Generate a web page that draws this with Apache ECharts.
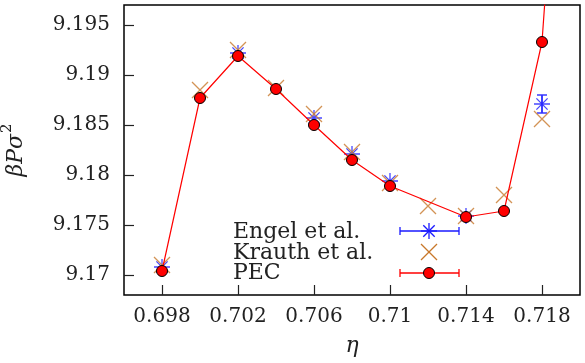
<!DOCTYPE html>
<html>
<head>
<meta charset="utf-8">
<script src="https://cdn.jsdelivr.net/npm/echarts@6/dist/echarts.min.js"></script>
<style>
  html, body { margin: 0; padding: 0; background: #fff; }
  #chart { width: 585px; height: 363px; }
</style>
</head>
<body>
<div id="chart"></div>
<script>
// data
var engelEta = [0.698, 0.702, 0.706, 0.708, 0.710, 0.714, 0.718];
var engelP = [9.1708, 9.1922, 9.1857, 9.1821, 9.1794, 9.1759, 9.1871];
var engelErr = [0, 0, 0, 0, 0, 0, 0.0009];

var krauthEta = [0.698, 0.700, 0.702, 0.704, 0.706, 0.708, 0.710, 0.712, 0.714, 0.716, 0.718];
var krauthP = [9.1710, 9.1885, 9.1925, 9.1887, 9.1861, 9.1823, 9.1792, 9.1769, 9.1759, 9.1780, 9.1856];

var pecEta = [0.698, 0.700, 0.702, 0.704, 0.706, 0.708, 0.710, 0.714, 0.716, 0.718, 0.720];
var pecP = [9.1704, 9.1877, 9.1919, 9.1886, 9.1850, 9.1815, 9.1789, 9.1758, 9.1764, 9.1933, 9.2470];

var xTicks = [0.698, 0.702, 0.706, 0.710, 0.714, 0.718];
var yTicks = [9.170, 9.175, 9.180, 9.185, 9.190, 9.195];

var BLUE = '#1a1aff', ORANGE = '#c8782a', RED = '#ff0000';
var SERIF = '"DejaVu Serif", serif';
var ASTERISK = 'path://M0,-10L0,10M-10,0L10,0M-7,-7L7,7M-7,7L7,-7';
var CROSS = 'path://M-10,-10L10,10M-10,10L10,-10';

function zip(a, b) { return a.map(function (v, i) { return [v, b[i]]; }); }
function fmt(v) { return String(+v.toFixed(3)); }

// small helper for legend strokes
function seg(x1, y1, x2, y2, color) {
  return { type: 'line', shape: { x1: x1, y1: y1, x2: x2, y2: y2 }, style: { stroke: color, lineWidth: 1.3 } };
}
function legendText(txt, y) {
  return { type: 'text', x: 233, y: y, style: { text: txt, font: '22px "DejaVu Serif", serif', fill: '#222', verticalAlign: 'middle' } };
}

var chart = echarts.init(document.getElementById('chart'));

var option = {
  animation: false,
  backgroundColor: '#fff',
  grid: { left: 124, right: 5, top: 5, bottom: 68, outerBoundsMode: 'none', show: true, borderColor: '#000', borderWidth: 1.5, backgroundColor: 'transparent' },
  xAxis: {
    type: 'value', min: 0.696, max: 0.720,
    name: 'η', nameLocation: 'middle', nameGap: 40,
    nameTextStyle: { fontFamily: SERIF, fontStyle: 'italic', fontSize: 22, color: '#222' },
    axisLine: { show: false },
    splitLine: { show: false },
    axisTick: { inside: true, length: 10, customValues: xTicks, lineStyle: { color: '#222', width: 1.2 } },
    axisLabel: { customValues: xTicks, formatter: fmt, margin: 12, fontFamily: SERIF, fontSize: 20, color: '#222' }
  },
  yAxis: {
    type: 'value', min: 9.168, max: 9.197,
    name: '{b|βPσ}{s|2}', nameLocation: 'middle', nameGap: 97, nameRotate: 90,
    nameTextStyle: {
      rich: {
        b: { fontFamily: SERIF, fontStyle: 'italic', fontSize: 22, color: '#222', verticalAlign: 'bottom' },
        s: { fontFamily: SERIF, fontSize: 15, color: '#222', verticalAlign: 'top', padding: [0, 0, 12, 1] }
      }
    },
    axisLine: { show: false },
    splitLine: { show: false },
    axisTick: { inside: true, length: 10, customValues: yTicks, lineStyle: { color: '#222', width: 1.2 } },
    axisLabel: { customValues: yTicks, formatter: fmt, margin: 14, fontFamily: SERIF, fontSize: 20, color: '#222' }
  },
  series: [
    {
      name: 'Engel err', type: 'custom', z: 2,
      renderItem: function (params, api) {
        var x = api.value(0), y = api.value(1), e = api.value(2);
        if (!e) return null;
        var top = api.coord([x, y + e]), bot = api.coord([x, y - e]);
        var style = { stroke: BLUE, lineWidth: 1.3 };
        return { type: 'group', children: [
          { type: 'line', shape: { x1: top[0], y1: top[1], x2: bot[0], y2: bot[1] }, style: style },
          { type: 'line', shape: { x1: top[0] - 5, y1: top[1], x2: top[0] + 5, y2: top[1] }, style: style },
          { type: 'line', shape: { x1: bot[0] - 5, y1: bot[1], x2: bot[0] + 5, y2: bot[1] }, style: style }
        ] };
      },
      data: engelEta.map(function (v, i) { return [v, engelP[i], engelErr[i]]; })
    },
    {
      name: 'Engel et al.', type: 'scatter', z: 3,
      symbol: ASTERISK, symbolSize: 16,
      itemStyle: { color: 'none', borderColor: BLUE, borderWidth: 1.3 },
      data: zip(engelEta, engelP)
    },
    {
      name: 'Krauth et al.', type: 'scatter', z: 3,
      symbol: CROSS, symbolSize: 16,
      itemStyle: { color: 'none', borderColor: ORANGE, borderWidth: 1.3 },
      data: zip(krauthEta, krauthP)
    },
    {
      name: 'PEC', type: 'line', z: 4, clip: true,
      symbol: 'circle', symbolSize: 11, showAllSymbol: true,
      lineStyle: { color: RED, width: 1.2 },
      itemStyle: { color: RED, borderColor: '#000', borderWidth: 1 },
      data: zip(pecEta, pecP)
    }
  ],
  graphic: [
    legendText('Engel et al.', 232),
    legendText('Krauth et al.', 253),
    legendText('PEC', 273),
    { type: 'group', z: 10, children: [
      seg(400, 231, 459, 231, BLUE), seg(400, 227, 400, 235, BLUE), seg(459, 227, 459, 235, BLUE),
      seg(429, 223, 429, 239, BLUE), seg(421, 231, 437, 231, BLUE),
      seg(423.3, 225.3, 434.7, 236.7, BLUE), seg(423.3, 236.7, 434.7, 225.3, BLUE),
      seg(421, 244, 437, 260, ORANGE), seg(421, 260, 437, 244, ORANGE),
      seg(400, 273, 459, 273, RED), seg(400, 269, 400, 277, RED), seg(459, 269, 459, 277, RED),
      { type: 'circle', shape: { cx: 429, cy: 273, r: 5.5 }, style: { fill: RED, stroke: '#000', lineWidth: 1 } }
    ] }
  ]
};
chart.setOption(option);
</script>
</body>
</html>
